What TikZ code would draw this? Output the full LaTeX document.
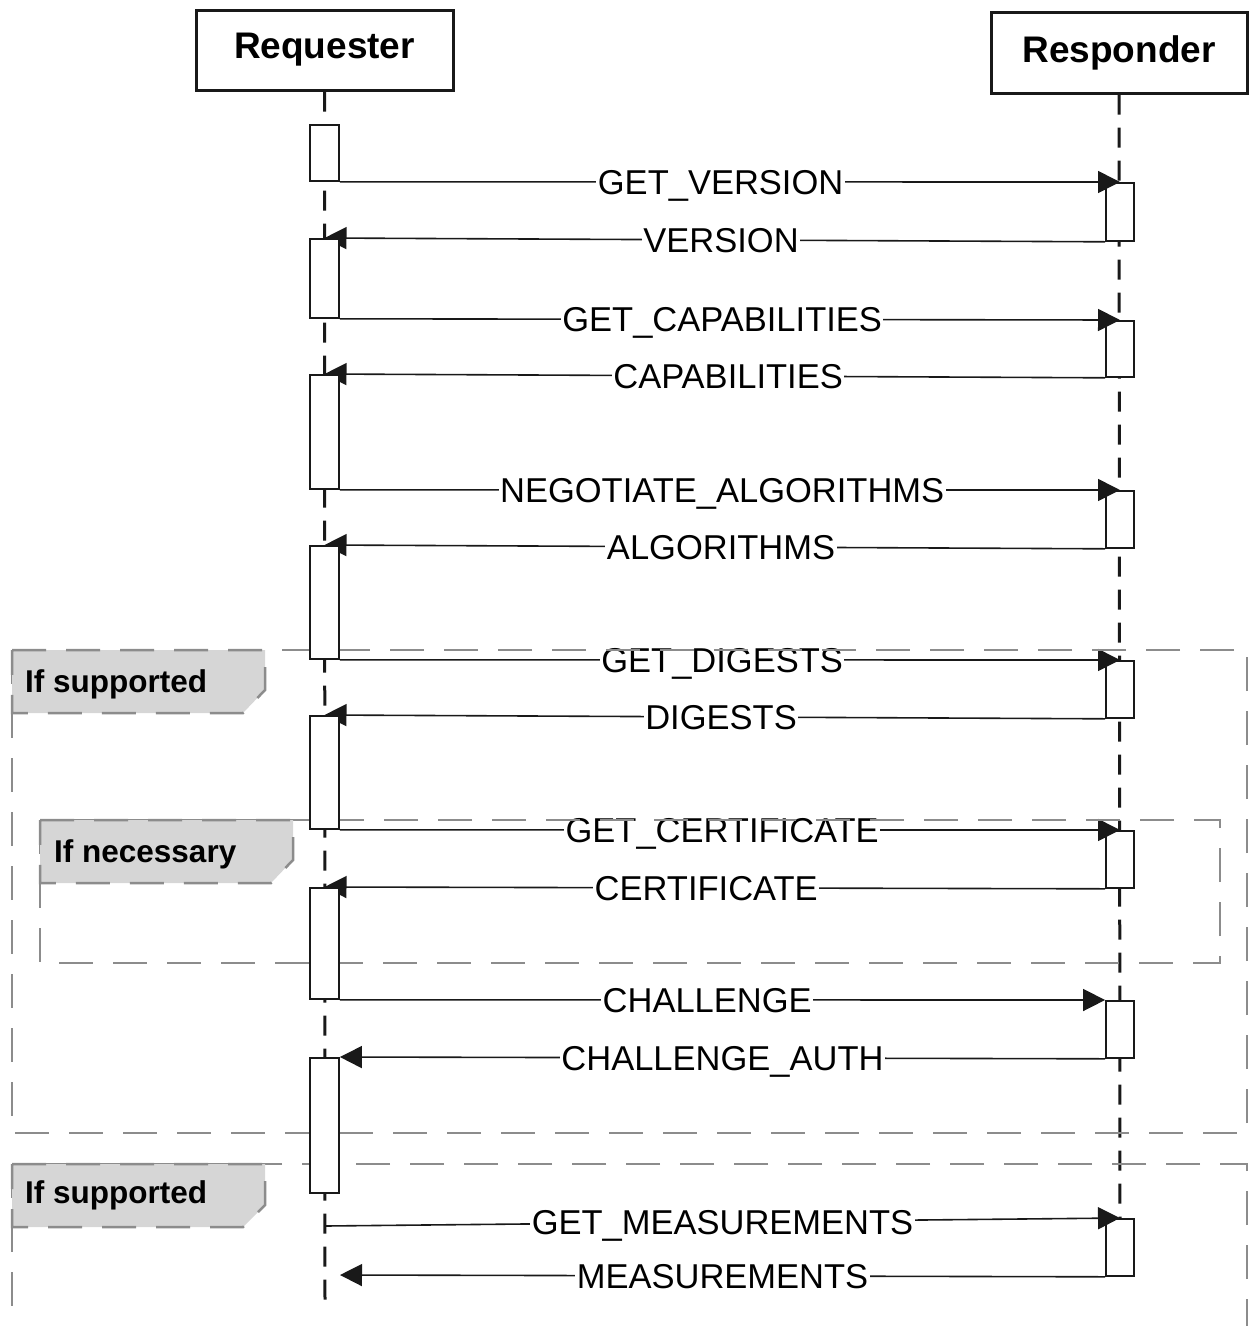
\documentclass[tikz,border=0pt]{standalone}
\usepackage{fontspec}
\setmainfont{Liberation Sans}
\usetikzlibrary{arrows.meta,calc}
\definecolor{framegray}{RGB}{140,140,140}
\definecolor{tabgray}{RGB}{214,214,214}
\definecolor{ink}{RGB}{25,25,25}
\pgfdeclarelayer{bg}
\pgfdeclarelayer{mid}
\pgfsetlayers{bg,mid,main}
\tikzset{
 hdr/.style={draw=ink, line width=3pt, minimum width=257pt, minimum height=80pt, inner sep=0pt, font=\fontsize{37}{44}\selectfont\bfseries, fill=white},
 actbox/.style={draw=ink, line width=1.8pt, fill=white, minimum width=29pt, inner sep=0pt, anchor=north},
 lifeline/.style={draw=ink, line width=3pt, dash pattern=on 20pt off 13pt},
 msg/.style={draw=ink, line width=1.6pt, -{Triangle[length=22pt,width=22pt]}},
 lbl/.style={fill=white, inner xsep=1.5pt, inner ysep=0pt, text height=25pt, text depth=0pt, font=\fontsize{34.5}{40}\selectfont, text=black},
 framebox/.style={draw=framegray, line width=2.5pt, dash pattern=on 34pt off 20pt},
 tabshape/.style={framebox, fill=tabgray},
 tablbl/.style={anchor=base west, inner sep=0pt, font=\fontsize{31.5}{38}\selectfont\bfseries},
}
\begin{document}
\begin{tikzpicture}[x=1pt,y=-1pt]
\useasboundingbox (0,0) rectangle (1249,1326);
\clip (0,0) rectangle (1249,1326);
% headers
\node[hdr] (req) at (324.5,50) {Requester};
\node[hdr, minimum width=256pt, minimum height=81pt] (resp) at (1119,52.5) {Responder};
% requester activations
\node[actbox, minimum height=56pt] (a1) at (324.5,124) {};
\node[actbox, minimum height=79pt] (a2) at (324.5,238) {};
\node[actbox, minimum height=114pt] (a3) at (324.5,374) {};
\node[actbox, minimum height=113pt] (a4) at (324.5,545) {};
\node[actbox, minimum height=113pt] (a5) at (324.5,715) {};
\node[actbox, minimum height=111pt] (a6) at (324.5,887) {};
\node[actbox, minimum height=135pt] (a7) at (324.5,1057) {};
\coordinate (rqend) at (325,1305);
\coordinate (rsend) at (1120,1218);
\coordinate (m1) at (325,1226);
\coordinate (m2) at (340,1275);
\begin{pgfonlayer}{bg}
\draw[lifeline] (req.south) -- (rqend);
\draw[lifeline] (resp.south) -- (rsend);
\node[actbox, minimum width=28pt, minimum height=58pt] (b1) at (1120,182) {};
\node[actbox, minimum width=28pt, minimum height=56pt] (b2) at (1120,320) {};
\node[actbox, minimum width=28pt, minimum height=57pt] (b3) at (1120,490) {};
\node[actbox, minimum width=28pt, minimum height=57pt] (b4) at (1120,660) {};
\node[actbox, minimum width=28pt, minimum height=57pt] (b5) at (1120,830) {};
\node[actbox, minimum width=28pt, minimum height=57pt] (b6) at (1120,1000) {};
\node[actbox, minimum width=28pt, minimum height=57pt] (b7) at (1120,1218) {};
\end{pgfonlayer}
\begin{pgfonlayer}{mid}
\draw[msg] (a1.south east) -- (b1.north) node[lbl, pos=0.488] (l1) {GET\_VERSION};
\draw[msg] (b1.south west) -- (a2.north) node[lbl, pos=0.492] (l2) {VERSION};
\draw[msg] (a2.south east) -- (b2.north) node[lbl, pos=0.490] (l3) {GET\_CAPABILITIES};
\draw[msg] (b2.south west) -- (a3.north) node[lbl, pos=0.483] (l4) {CAPABILITIES};
\draw[msg] (a3.south east) -- (b3.north) node[lbl, pos=0.490] (l5) {NEGOTIATE\_ALGORITHMS};
\draw[msg] (b3.south west) -- (a4.north) node[lbl, pos=0.492] (l6) {ALGORITHMS};
\draw[msg] (a4.south east) -- (b4.north) node[lbl, pos=0.490] (l7) {GET\_DIGESTS};
\draw[msg] (b4.south west) -- (a5.north) node[lbl, pos=0.492] (l8) {DIGESTS};
\draw[msg] (a5.south east) -- (b5.north) node[lbl, pos=0.490] (l9) {GET\_CERTIFICATE};
\draw[msg] (b5.south west) -- (a6.north) node[lbl, pos=0.511] (l10) {CERTIFICATE};
\draw[msg] (a6.south east) -- (b6.north west) node[lbl, pos=0.480] (l11) {CHALLENGE};
\draw[msg] (b6.south west) -- (a7.north east) node[lbl, pos=0.500] (l12) {CHALLENGE\_AUTH};
\draw[msg] (m1) -- (b7.north) node[lbl, pos=0.500] (l13) {GET\_MEASUREMENTS};
\draw[msg] (b7.south west) -- (m2) node[lbl, pos=0.500] (l14) {MEASUREMENTS};
% frames
\draw[framebox] (12,650) rectangle (1247,1133);
\draw[tabshape] (12,650) -- (265,650) -- (265,690) -- (243,713) -- (12,713) -- cycle;
\node[tablbl] (f1) at (25,692) {If supported};
\draw[framebox] (40,820) rectangle (1220,963);
\draw[tabshape] (40,820) -- (293,820) -- (293,860) -- (271,883) -- (40,883) -- cycle;
\node[tablbl] (f2) at (54,862) {If necessary};
\draw[framebox] (12,1164) rectangle (1247,1360);
\draw[tabshape] (12,1164) -- (265,1164) -- (265,1205) -- (243,1227) -- (12,1227) -- cycle;
\node[tablbl] (f3) at (25,1203) {If supported};
\end{pgfonlayer}
\end{tikzpicture}
\end{document}
